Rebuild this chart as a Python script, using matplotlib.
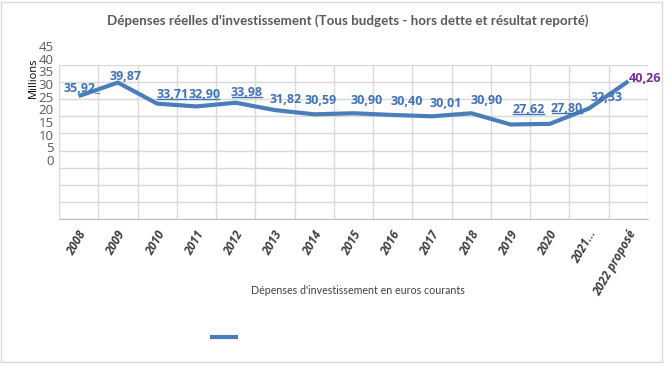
import matplotlib.pyplot as plt
from matplotlib.patches import Rectangle
from matplotlib.lines import Line2D
from matplotlib.transforms import IdentityTransform

years = ['2008', '2009', '2010', '2011', '2012', '2013', '2014', '2015',
         '2016', '2017', '2018', '2019', '2020', '2021...', '2022 proposé']
depenses = [35.92, 39.87, 33.71, 32.90, 33.98, 31.82, 30.59, 30.90,
            30.40, 30.01, 30.90, 27.62, 27.80, 32.33, 40.26]
y_ticks = [0, 5, 10, 15, 20, 25, 30, 35, 40, 45]

# where Excel dropped each data label (pixel offsets from the point)
label_dx = [3, 8, 15, 8, 11, 11, 6, 13, 14, 14, 15, 18, 17, 18, 17]
label_dy = [8, 6, 9, 12, 10, 11, 14, 13, 13, 13, 13, 15, 15, 11, 3]
underlined = [2, 3, 4, 11, 12]

blue = '#4A7EBB'
label_blue = '#3F73B8'
grid = '#D9D9D9'
W, H = 666, 365

fig = plt.figure(figsize=(W / 100, H / 100), dpi=100)
ax = fig.add_axes([59 / W, 1 - 219 / H, (648 - 59) / W, (219 - 65) / H])

x = list(range(len(years)))
line, = ax.plot(x, depenses, color=blue, lw=3, solid_capstyle='butt', zorder=3)
ax.set_xlim(-0.5, len(years) - 0.5)
ax.set_ylim(0, 45)
ax.set_yticks(y_ticks)
ax.set_xticks([i - 0.5 for i in range(len(years) + 1)], minor=False)
ax.tick_params(axis='both', length=0, labelleft=False, labelbottom=False)
ax.grid(True, color=grid, lw=1)
for s in ['top', 'right', 'left']:
    ax.spines[s].set_visible(False)
ax.spines['bottom'].set_color('#BFBFBF')

# category labels sit at category centres
for i, yr in enumerate(years):
    ax.text(i + 0.12, -0.08, yr, transform=ax.get_xaxis_transform(),
            rotation=60, rotation_mode='anchor', ha='right', va='center',
            fontsize=8.5, fontweight='bold', fontstyle='italic',
            color='#404040', family='Open Sans')

# misplaced value axis labels, as in the original
tax = fig.add_axes([59 / W, 1 - 160 / H, 0.01, (160 - 46) / H])
tax.set_ylim(0, 45)
tax.set_yticks(y_ticks)
tax.set_yticklabels([str(v) for v in y_ticks], fontsize=9.5, color='#595959',
                    family='Open Sans')
tax.tick_params(length=0, pad=4, labelbottom=False)
tax.set_xticks([])
tax.patch.set_visible(False)
for s in tax.spines.values():
    s.set_visible(False)

fig.text(33 / W, 1 - 78 / H, 'Millions', rotation=90, ha='center', va='center',
         fontsize=8, color='black', family='Open Sans')

texts = []
for i, v in enumerate(depenses):
    s = f'{v:.2f}'.replace('.', ',')
    if i == 0:
        s += '_'
    col = '#7030A0' if i == len(depenses) - 1 else label_blue
    t = ax.annotate(s, (i, v), xytext=(label_dx[i] * 0.72, label_dy[i] * 0.72),
                    textcoords='offset points', ha='center', va='center',
                    fontsize=9, fontweight='bold', color=col, family='Open Sans',
                    annotation_clip=False, zorder=4)
    texts.append(t)

fig.text(348 / W, 1 - 21 / H,
         "Dépenses réelles d'investissement (Tous budgets - hors dette et résultat reporté)",
         ha='center', va='center', fontsize=9.6, fontweight='bold', color='#595959',
         family='Lato')
fig.text(358 / W, 1 - 290 / H, "Dépenses d'investissement en euros courants",
         ha='center', va='center', fontsize=7.7, color='#404040', family='Lato')

fig.legend([line], [''], loc='center', bbox_to_anchor=(224 / W, 1 - 338 / H),
           frameon=False, handlelength=2.0, handletextpad=0, fontsize=10)

fig.add_artist(Rectangle((1 / W, 3 / H), 661 / W, 360 / H, fill=False,
                         edgecolor='#D9D9D9', lw=1, transform=fig.transFigure))

fig.canvas.draw()
r = fig.canvas.get_renderer()
for i in underlined:
    bb = texts[i].get_window_extent(r)
    fig.add_artist(Line2D([bb.x0 + 1, bb.x1 - 1], [bb.y0 + 2, bb.y0 + 2],
                          color=label_blue, lw=1, transform=IdentityTransform()))

fig.savefig('out.png', dpi=100)
